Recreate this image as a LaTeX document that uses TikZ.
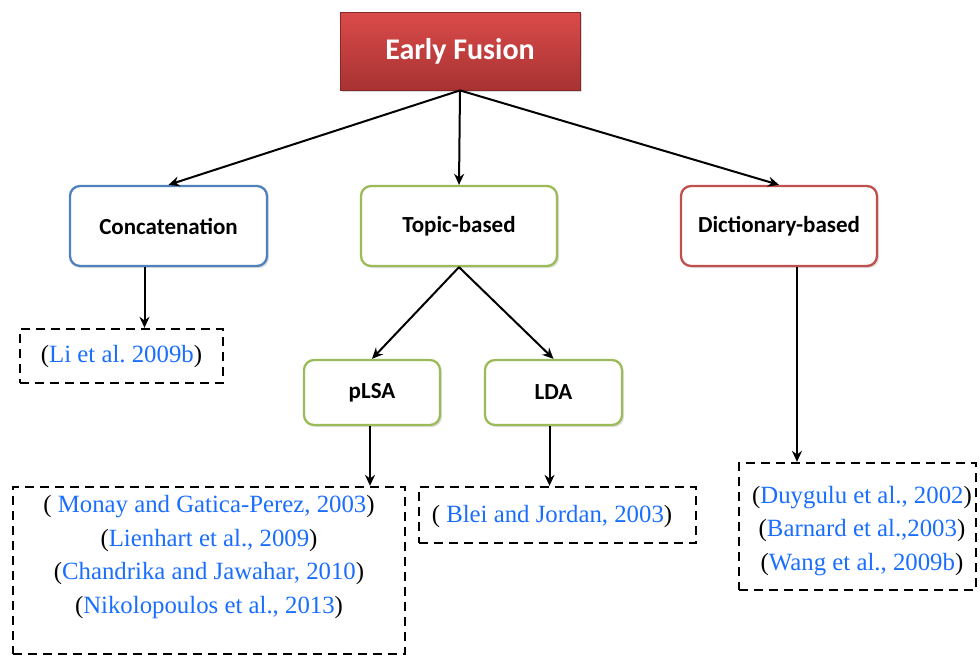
\documentclass[tikz,border=0pt]{standalone}
\usepackage{fontspec}
\setmainfont{Liberation Serif}
\newfontfamily\calib{Carlito}
\usetikzlibrary{arrows.meta,shadows,calc}
\definecolor{citeblue}{HTML}{1A6EFF}
\definecolor{bxblue}{HTML}{4F81BD}
\definecolor{bxgreen}{HTML}{9BBB59}
\definecolor{bxred}{HTML}{C0504D}
\definecolor{eftop}{HTML}{DA4B4A}
\definecolor{efbot}{HTML}{A83232}
\newcommand\bl[1]{\textcolor{citeblue}{#1}}
\frenchspacing
\begin{document}
\begin{tikzpicture}[x=1pt,y=-1pt,
  catbox/.style={draw, rounded corners=10pt, line width=2.3pt, fill=white,
    font=\calib\bfseries\fontsize{23}{27}\selectfont,
    drop shadow={opacity=0.25, shadow xshift=2pt, shadow yshift=-2pt}},
  refbox/.style={draw, dash pattern=on 9pt off 6pt, line width=2.3pt},
  reftext/.style={align=center, font=\fontsize{24.8}{33.8}\selectfont, inner sep=0pt},
  arr/.style={-{Stealth[length=11pt,width=10pt]}, line width=2pt}]
\useasboundingbox (0,0) rectangle (980,656);
% top
\node[draw=efbot!80!black, line width=0.8pt, top color=eftop, bottom color=efbot,
  minimum width=240pt, minimum height=78pt, text=white,
  font=\calib\bfseries\fontsize{30}{34}\selectfont,
  drop shadow={opacity=0.3, shadow xshift=2pt, shadow yshift=-2pt}] (ef) at (460,51) {Early Fusion};
% second level
\node[catbox, draw=bxblue, minimum width=197pt, minimum height=80pt] (concat) at (168.5,226) {Concatenation};
\node[catbox, draw=bxgreen, minimum width=196pt, minimum height=80pt] (topic) at (459,226) {Topic-based};
\node[catbox, draw=bxred, minimum width=196pt, minimum height=80pt] (dict) at (779,226) {Dictionary-based};
% third level
\node[catbox, draw=bxgreen, minimum width=136pt, minimum height=65pt] (plsa) at (372,392.5) {pLSA};
\node[catbox, draw=bxgreen, minimum width=137pt, minimum height=65pt] (lda) at (553.5,392.5) {LDA};
% reference boxes
\node[refbox, minimum width=203pt, minimum height=54pt] (li) at (121.5,356) {};
\node[reftext] (litext) at (121.5,357) {(\bl{Li et al. 2009b})};
\node[refbox, minimum width=392pt, minimum height=167pt] (monay) at (209,570.5) {};
\node[reftext] (monaytext) at (209,557) {( \bl{Monay and Gatica-Perez, 2003})\\(\bl{Lienhart et al., 2009})\\(\bl{Chandrika and Jawahar, 2010})\\(\bl{Nikolopoulos et al., 2013})};
\node[refbox, minimum width=277pt, minimum height=56pt] (blei) at (557.5,515) {};
\node[reftext] (bleitext) at (552,517) {( \bl{Blei and Jordan, 2003})};
\node[refbox, minimum width=237pt, minimum height=127pt] (duy) at (857.5,526.5) {};
\node[reftext] (duytext) at (862,531) {(\bl{Duygulu et al., 2002})\\(\bl{Barnard et al.,2003})\\(\bl{Wang et al., 2009b})};
% connectors
\draw[arr] (ef.south) -- (concat.north);
\draw[arr] (ef.south) -- (topic.north);
\draw[arr] (ef.south) -- (dict.north);
\draw[arr] (topic.south) -- (plsa.north);
\draw[arr] (topic.south) -- (lda.north);
\coordinate (c1) at ($(concat.south)+(-24,0)$);
\draw[arr] (c1) -- (c1 |- li.north);
\coordinate (p1) at ($(plsa.south)+(-2,0)$);
\draw[arr] (p1) -- (p1 |- monay.north);
\coordinate (l1) at ($(lda.south)+(-4,0)$);
\draw[arr] (l1) -- (l1 |- blei.north);
\coordinate (d1) at ($(dict.south)+(18,0)$);
\draw[arr] (d1) -- (d1 |- duy.north);
\end{tikzpicture}
\end{document}
